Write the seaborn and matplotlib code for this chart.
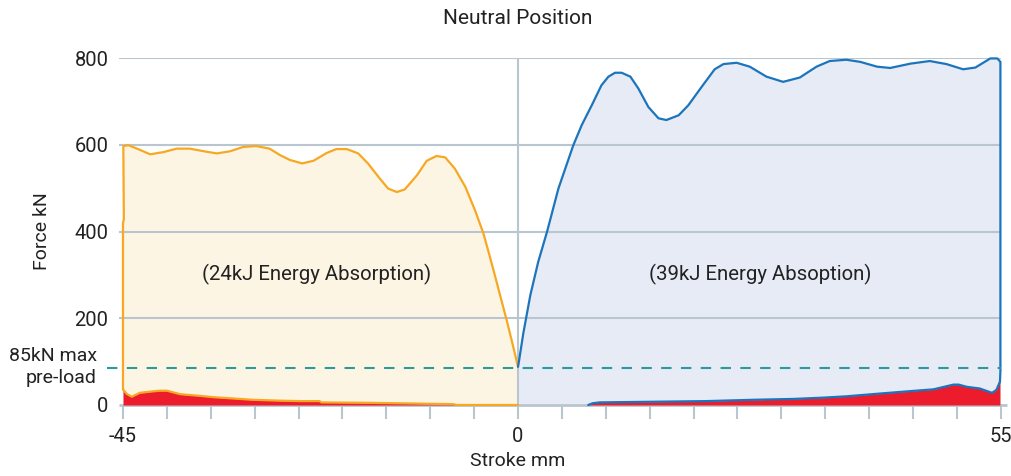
import matplotlib
matplotlib.use("Agg")
import matplotlib.pyplot as plt
import numpy as np
import pandas as pd
import seaborn as sns

# compression side (left)
left_x = [-45.0, -45.0, -44.9, -44.96, -44.4, -43.4, -41.9, -40.4, -38.9, -37.4, -35.5,
          -34.3, -32.8, -31.3, -29.8, -28.3, -27.1, -26.0, -24.6, -23.3, -21.8, -20.7,
          -19.5, -18.2, -17.1, -15.9, -14.8, -13.8, -12.9, -11.5, -10.4, -9.3, -8.3,
          -7.2, -6.0, -4.9, -3.95, -3.25, -2.6, -1.95, -1.3, -0.65, 0.0]
left_force = [36, 420, 428, 597, 599, 591, 578, 583, 591, 591, 584,
              580, 585, 595, 597, 591, 576, 565, 557, 563, 581, 590,
              590, 580, 557, 526, 499, 491, 497, 530, 563, 574, 571,
              545, 503, 449, 396, 345, 296, 246, 196, 143, 88]

left_ret_x = [-45.0, -44.6, -44.0, -43.1, -41.8, -40.8, -40.0, -38.5, -36.2, -34.7, -32.4,
              -30.2, -27.1, -24.8, -22.6, -22.4, -16.9, -7.4, -7.0, 0.0]
left_ret_force = [36, 26, 19, 28, 31, 33, 33, 25, 21, 18, 15,
                  12, 10, 9, 9, 6, 5, 2, 0, 0]

# extension side (right)
right_x = [0.0, 0.1, 0.6, 1.4, 2.3, 3.3, 4.6, 6.3, 7.25, 8.4, 9.5, 10.3, 11.05, 11.8,
           12.8, 13.7, 14.85, 16.0, 16.9, 18.3, 19.4, 20.9, 22.4, 23.4, 24.9, 26.4,
           28.3, 30.2, 32.1, 34.0, 35.5, 37.4, 39.0, 40.9, 42.4, 44.7, 46.9, 48.8,
           50.7, 52.1, 53.8, 54.6, 54.95, 54.95, 54.9]
right_force = [88, 100, 165, 253, 330, 399, 499, 599, 645, 691, 737, 757, 766, 766,
               757, 730, 687, 661, 657, 668, 691, 733, 774, 786, 789, 780,
               757, 745, 755, 780, 793, 796, 791, 780, 777, 787, 793, 786,
               774, 778, 799, 799, 791, 80, 54]

right_ret_x = [8.0, 8.5, 9.3, 21.5, 26.8, 31.4, 34.8, 37.4, 41.6, 44.7, 47.3, 49.6,
               50.2, 51.1, 52.6, 54.0, 54.5, 54.9]
right_ret_force = [0, 4, 6, 9, 12, 14, 17, 20, 27, 32, 36, 47,
                   47, 42, 38, 28, 35, 54]

preload = 85
y_ticks = [0, 200, 400, 600, 800]
x_ticks = list(range(-45, 56, 5))
x_labels = {-45: "-45", 0: "0", 55: "55"}

yellow = "#f7a823"
yellow_fill = "#fdf5e4"
blue = "#1c75bc"
blue_fill = "#e6ebf6"
red = "#ec1c2d"
teal = "#2a9a9c"
grid = "#b9c6d0"
ink = "#222222"

sns.set_theme(style="white")
plt.rcParams["font.family"] = ["Roboto", "DejaVu Sans"]

fig = plt.figure(figsize=(10.11, 4.76), dpi=100)
ax = fig.add_axes([107 / 1011, 71 / 476, 900 / 1011, 347 / 476])
ax.set_xlim(-46.82, 55.7)
ax.set_ylim(0, 800)

# fills
ax.fill_between(left_x, left_force, 0, color=yellow_fill, lw=0, zorder=1)
ax.fill_between(right_x, right_force, 0, color=blue_fill, lw=0, zorder=1)

# grid
ax.hlines(y_ticks[1:], -45.45, 55.02, color=grid, lw=1.5, zorder=2)
ax.vlines(0, 0, 800, color=grid, lw=1.5, zorder=2)
ax.hlines(0, -45.45, 55.7, color=grid, lw=2, zorder=2, clip_on=False)

ax.fill_between(left_ret_x, left_ret_force, 0, color=red, lw=0, zorder=3)
ax.fill_between(right_ret_x, right_ret_force, 0, color=red, lw=0, zorder=3)

df_left = pd.DataFrame({"x": left_x, "y": left_force})
df_left_ret = pd.DataFrame({"x": left_ret_x, "y": left_ret_force})
df_right = pd.DataFrame({"x": right_x, "y": right_force})
df_right_ret = pd.DataFrame({"x": right_ret_x, "y": right_ret_force})

for d, c in [(df_left, yellow), (df_left_ret, yellow), (df_right, blue), (df_right_ret, blue)]:
    sns.lineplot(data=d, x="x", y="y", sort=False, estimator=None, color=c, lw=1.6,
                 ax=ax, zorder=4, clip_on=False)

# pre-load line
ax.plot([-46.82, 55.05], [preload, preload], color=teal, lw=1.5, dashes=(5, 4.5), zorder=5,
        clip_on=False)
ax.text(-47.96, 88, "85kN max\npre-load", ha="right", va="center", multialignment="right",
        fontsize=14, color=ink, linespacing=1.25, clip_on=False)

ax.text(-23, 300, "(24kJ Energy Absorption)", ha="center", va="center", fontsize=14.7, color=ink)
ax.text(27.6, 300, "(39kJ Energy Absoption)", ha="center", va="center", fontsize=14.7, color=ink)

for s in ax.spines.values():
    s.set_visible(False)

ax.set_xticks(x_ticks)
ax.set_xticklabels([x_labels.get(t, "") for t in x_ticks])
ax.set_yticks(y_ticks)
ax.set_yticklabels([str(t) for t in y_ticks])
ax.tick_params(axis="x", length=10, width=1.5, color=grid, pad=6, labelsize=14.5, labelcolor=ink,
               bottom=True)
ax.tick_params(axis="y", length=0, pad=-1, labelsize=14.5, labelcolor=ink)

ax.set_xlabel("Stroke mm", fontsize=14, color=ink)
ax.xaxis.set_label_coords(411 / 900, -0.135)
ax.set_ylabel("Force kN", fontsize=14, color=ink, labelpad=17)

fig.text(518 / 1011, 1 - 18 / 476, "Neutral Position", ha="center", va="center", fontsize=15,
         color=ink)

fig.savefig("out.png", dpi=100)
